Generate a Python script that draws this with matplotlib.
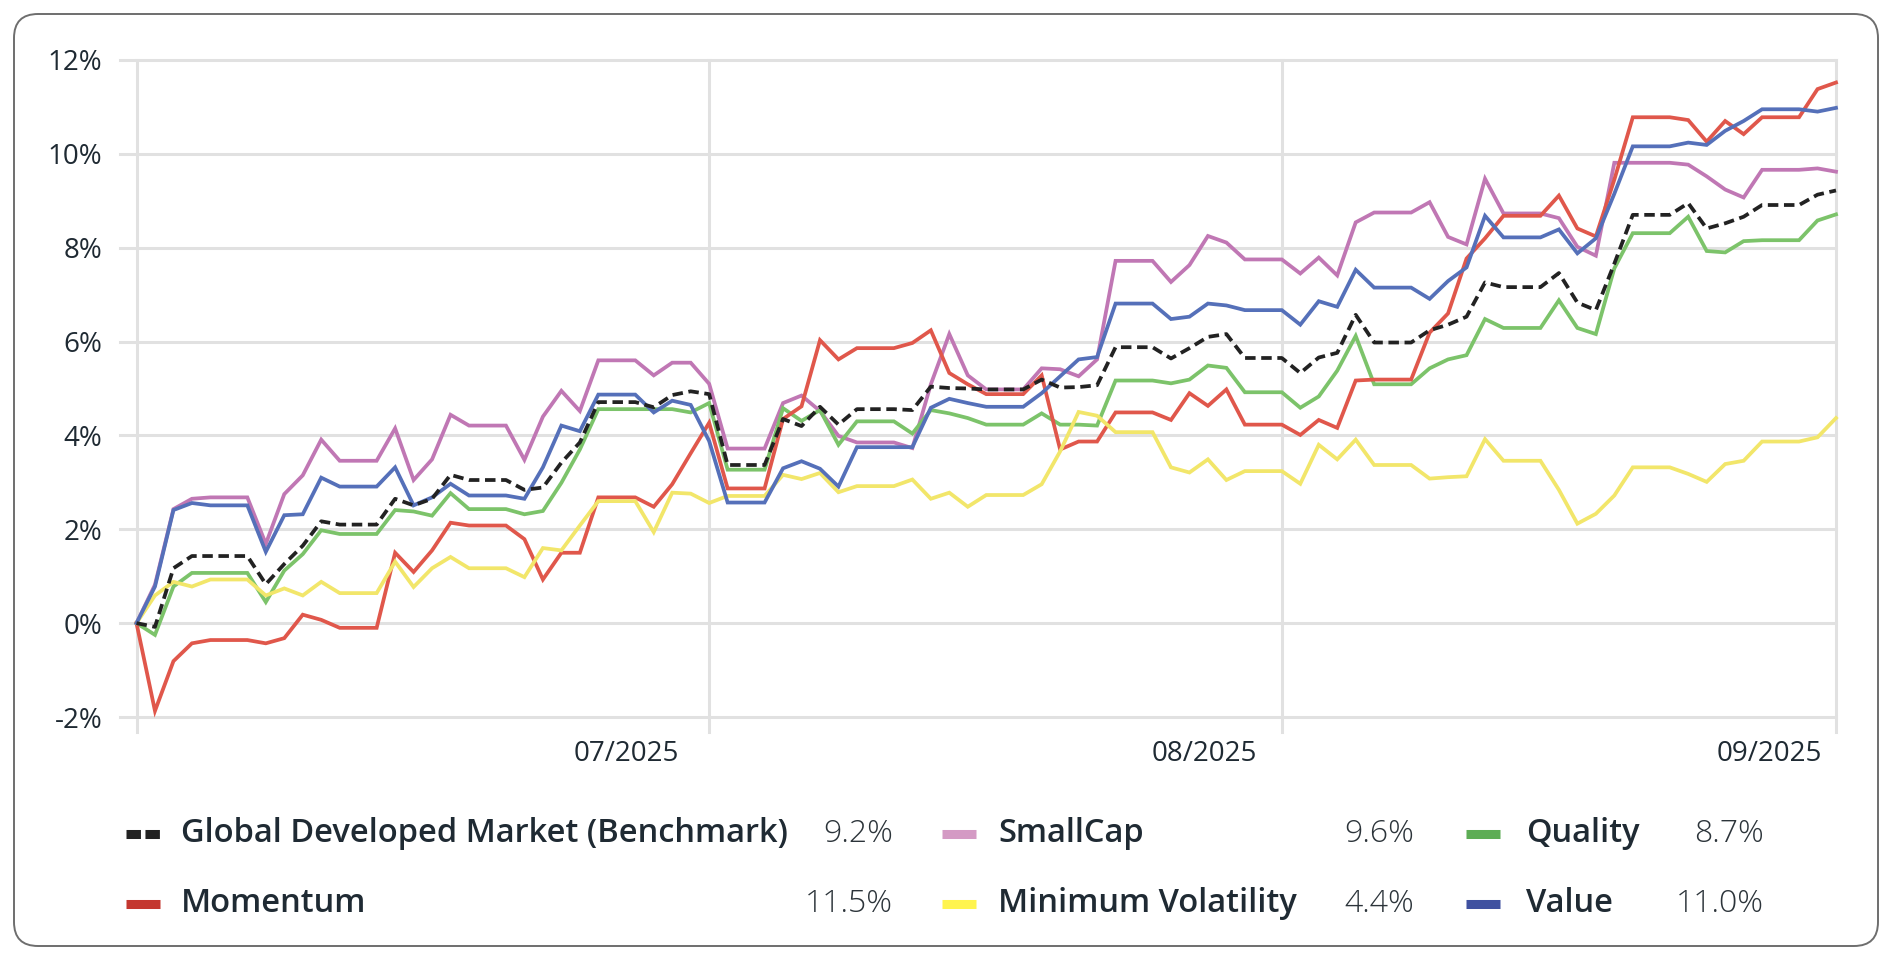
import numpy as np
import matplotlib
matplotlib.use("Agg")
import matplotlib.pyplot as plt
from matplotlib.lines import Line2D
from matplotlib.patches import FancyBboxPatch
from matplotlib.transforms import IdentityTransform

plt.rcParams['font.family'] = ['Open Sans', 'DejaVu Sans']

# cumulative return (%) per calendar day
benchmark = [0.00, -0.08, 1.17, 1.43, 1.43, 1.43, 1.43, 0.83, 1.26, 1.65,
             2.17, 2.10, 2.10, 2.10, 2.65, 2.51, 2.65, 3.16, 3.05, 3.05,
             3.05, 2.84, 2.89, 3.42, 3.85, 4.71, 4.71, 4.71, 4.60, 4.86,
             4.94, 4.88, 3.37, 3.37, 3.37, 4.35, 4.20, 4.61, 4.23, 4.56,
             4.56, 4.56, 4.54, 5.04, 5.01, 5.00, 4.98, 4.98, 4.98, 5.19,
             5.02, 5.03, 5.07, 5.88, 5.88, 5.88, 5.64, 5.86, 6.10, 6.16,
             5.65, 5.65, 5.65, 5.33, 5.66, 5.76, 6.57, 5.98, 5.98, 5.98,
             6.24, 6.36, 6.53, 7.26, 7.16, 7.16, 7.16, 7.46, 6.83, 6.67,
             7.66, 8.70, 8.70, 8.70, 8.95, 8.41, 8.52, 8.66, 8.91, 8.91,
             8.91, 9.13, 9.22]
small_cap = [0.00, 0.82, 2.43, 2.65, 2.68, 2.68, 2.68, 1.69, 2.75, 3.15,
             3.91, 3.46, 3.46, 3.46, 4.15, 3.05, 3.49, 4.44, 4.21, 4.21,
             4.21, 3.48, 4.40, 4.95, 4.52, 5.60, 5.60, 5.60, 5.28, 5.55,
             5.55, 5.10, 3.72, 3.72, 3.72, 4.69, 4.85, 4.52, 3.99, 3.85,
             3.85, 3.85, 3.73, 5.09, 6.16, 5.28, 4.98, 4.98, 4.98, 5.43,
             5.41, 5.26, 5.62, 7.72, 7.72, 7.72, 7.27, 7.63, 8.25, 8.11,
             7.75, 7.75, 7.75, 7.45, 7.79, 7.41, 8.54, 8.75, 8.75, 8.75,
             8.97, 8.23, 8.07, 9.47, 8.73, 8.73, 8.73, 8.63, 8.02, 7.83,
             9.81, 9.81, 9.81, 9.81, 9.77, 9.52, 9.24, 9.07, 9.66, 9.66,
             9.66, 9.69, 9.62]
quality = [0.00, -0.25, 0.78, 1.07, 1.07, 1.07, 1.07, 0.45, 1.12, 1.47,
           1.98, 1.90, 1.90, 1.90, 2.41, 2.38, 2.29, 2.77, 2.43, 2.43,
           2.43, 2.32, 2.39, 2.99, 3.70, 4.56, 4.56, 4.56, 4.56, 4.56,
           4.49, 4.69, 3.27, 3.27, 3.27, 4.58, 4.31, 4.54, 3.80, 4.30,
           4.30, 4.30, 4.04, 4.54, 4.47, 4.37, 4.23, 4.23, 4.23, 4.47,
           4.23, 4.23, 4.21, 5.17, 5.17, 5.17, 5.11, 5.19, 5.49, 5.44,
           4.92, 4.92, 4.92, 4.59, 4.83, 5.38, 6.12, 5.09, 5.09, 5.09,
           5.43, 5.62, 5.71, 6.48, 6.29, 6.29, 6.29, 6.88, 6.29, 6.16,
           7.56, 8.31, 8.31, 8.31, 8.66, 7.93, 7.90, 8.14, 8.16, 8.16,
           8.16, 8.58, 8.71]
momentum = [0.00, -1.87, -0.81, -0.43, -0.36, -0.36, -0.36, -0.43, -0.32, 0.18,
            0.07, -0.10, -0.10, -0.10, 1.50, 1.09, 1.55, 2.14, 2.08, 2.08,
            2.08, 1.79, 0.93, 1.50, 1.50, 2.68, 2.68, 2.68, 2.48, 2.96,
            3.62, 4.27, 2.87, 2.87, 2.87, 4.35, 4.62, 6.03, 5.62, 5.86,
            5.86, 5.86, 5.97, 6.24, 5.33, 5.09, 4.88, 4.88, 4.88, 5.28,
            3.70, 3.87, 3.87, 4.49, 4.49, 4.49, 4.33, 4.90, 4.63, 4.98,
            4.23, 4.23, 4.23, 4.01, 4.33, 4.16, 5.17, 5.19, 5.19, 5.19,
            6.19, 6.60, 7.77, 8.20, 8.68, 8.68, 8.68, 9.11, 8.41, 8.24,
            9.45, 10.78, 10.78, 10.78, 10.72, 10.26, 10.70, 10.42, 10.78, 10.78,
            10.78, 11.38, 11.52]
min_vol = [0.00, 0.59, 0.88, 0.78, 0.93, 0.93, 0.93, 0.59, 0.74, 0.59,
           0.88, 0.64, 0.64, 0.64, 1.31, 0.77, 1.17, 1.41, 1.17, 1.17,
           1.17, 0.98, 1.60, 1.55, 2.08, 2.60, 2.60, 2.60, 1.94, 2.78,
           2.76, 2.56, 2.71, 2.71, 2.71, 3.16, 3.07, 3.20, 2.79, 2.92,
           2.92, 2.92, 3.06, 2.65, 2.78, 2.48, 2.73, 2.73, 2.73, 2.96,
           3.66, 4.50, 4.42, 4.07, 4.07, 4.07, 3.32, 3.21, 3.49, 3.05,
           3.24, 3.24, 3.24, 2.97, 3.80, 3.49, 3.91, 3.37, 3.37, 3.37,
           3.08, 3.11, 3.13, 3.92, 3.46, 3.46, 3.46, 2.84, 2.12, 2.33,
           2.72, 3.32, 3.32, 3.32, 3.18, 3.01, 3.39, 3.46, 3.87, 3.87,
           3.87, 3.96, 4.37]
value = [0.00, 0.78, 2.41, 2.56, 2.51, 2.51, 2.51, 1.52, 2.30, 2.32,
         3.10, 2.91, 2.91, 2.91, 3.32, 2.51, 2.68, 2.97, 2.72, 2.72,
         2.72, 2.65, 3.32, 4.21, 4.09, 4.87, 4.87, 4.87, 4.49, 4.74,
         4.65, 3.88, 2.57, 2.57, 2.57, 3.30, 3.45, 3.29, 2.91, 3.75,
         3.75, 3.75, 3.75, 4.59, 4.78, 4.69, 4.61, 4.61, 4.61, 4.90,
         5.26, 5.62, 5.67, 6.81, 6.81, 6.81, 6.48, 6.53, 6.81, 6.77,
         6.67, 6.67, 6.67, 6.36, 6.86, 6.74, 7.53, 7.15, 7.15, 7.15,
         6.91, 7.29, 7.58, 8.68, 8.22, 8.22, 8.22, 8.39, 7.88, 8.20,
         9.15, 10.16, 10.16, 10.16, 10.24, 10.19, 10.49, 10.70, 10.95, 10.95,
         10.95, 10.90, 10.98]

month_idx = [0, 31, 62, 92]
month_labels = ['', '07/2025', '08/2025', '09/2025']
y_ticks = [-2, 0, 2, 4, 6, 8, 10, 12]

names = ['Global Developed Market (Benchmark)', 'SmallCap', 'Quality',
         'Momentum', 'Minimum Volatility', 'Value']
series = [benchmark, small_cap, quality, momentum, min_vol, value]
line_colors = ['#222222', '#c077b4', '#7cc36a', '#e0574b', '#f2e66a', '#5570b9']
key_colors = ['#222222', '#d49ac4', '#5dad55', '#c4372f', '#fff44f', '#3f51a0']

W, H = 1892, 960
TEXT = '#1f2a33'
GRID = '#e1e1e1'

fig = plt.figure(figsize=(W / 100, H / 100), dpi=100)
ax = fig.add_axes([136.5 / W, 243 / H, (1836 - 136.5) / W, (900 - 243) / H])

x = np.arange(len(benchmark))
ax.set_xlim(x[0], x[-1])
ax.set_ylim(-2, 12)

for v in y_ticks:
    ax.axhline(v, xmin=-17 / 1699.5, xmax=1, color=GRID, lw=2.2, clip_on=False, zorder=0)
for m in month_idx:
    ax.axvline(m, ymin=-15 / 657, ymax=1, color=GRID, lw=2.2, clip_on=False, zorder=0)

# drawing order so the crossings look like the original
draw_order = [5, 3, 1, 2, 4, 0]
for k in draw_order:
    if k == 0:
        ax.plot(x, series[k], color=line_colors[k], lw=2.7, ls=(0, (2.8, 1.5)),
                dash_capstyle='butt', clip_on=False, zorder=3 + k)
    else:
        ax.plot(x, series[k], color=line_colors[k], lw=2.7, solid_joinstyle='miter',
                clip_on=False, zorder=2 + k * 0.1)

ax.set_yticks(y_ticks)
ax.set_yticklabels([f'{v}%' for v in y_ticks])
ax.tick_params(axis='y', length=0, pad=24.5, labelsize=20, labelcolor=TEXT)
ax.set_xticks([])
for s in ax.spines.values():
    s.set_visible(False)

label_shift = [0, -83, -78, -67]
for m, lab, dx in zip(month_idx, month_labels, label_shift):
    if lab:
        ax.annotate(lab, xy=(m, -2), xycoords='data', xytext=(dx, -37),
                    textcoords='offset pixels', ha='center', va='center',
                    fontsize=20, color=TEXT)

# outer rounded frame
frame = FancyBboxPatch((14, 14), W - 28, H - 28,
                       boxstyle='round,pad=0,rounding_size=24',
                       transform=IdentityTransform(), fill=False,
                       ec='#6e6e6e', lw=1.4)
fig.add_artist(frame)

# legend, laid out by hand in two rows of three
key_x = [126, 942, 1466]
name_x = [181, 998, 1526]
val_right = [893, 1414, 1764]
row_y = [834, 904]

for k, (name, vals) in enumerate(zip(names, series)):
    r, c = divmod(k, 3)
    yy = 1 - row_y[r] / H
    if k == 0:
        key = Line2D([key_x[c] / W, (key_x[c] + 34) / W], [yy, yy],
                     transform=fig.transFigure, color=key_colors[k], lw=6.5,
                     ls=(0, (1.6, 0.5)), dash_capstyle='butt')
    else:
        key = Line2D([key_x[c] / W, (key_x[c] + 34) / W], [yy, yy],
                     transform=fig.transFigure, color=key_colors[k], lw=6.5,
                     solid_capstyle='butt')
    fig.add_artist(key)
    fig.text(name_x[c] / W, yy, name, ha='left', va='center', fontsize=23.5,
             fontweight='semibold', color=TEXT)
    fig.text(val_right[c] / W, yy, f'{vals[-1]:.1f}%', ha='right', va='center',
             fontsize=23, fontweight='light', color='#2c343a')

fig.savefig('out.png', dpi=100)
